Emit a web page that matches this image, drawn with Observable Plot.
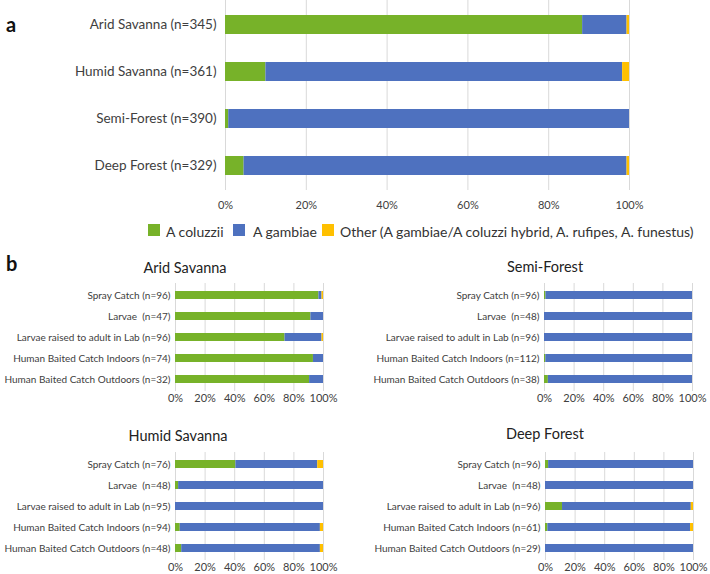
<!DOCTYPE html>
<html>
<head>
<meta charset="utf-8">
<script src="https://cdn.jsdelivr.net/npm/d3@7"></script>
<script src="https://cdn.jsdelivr.net/npm/@observablehq/plot@0.6"></script>
<style>
  html, body { margin: 0; padding: 0; background: #fff; }
  #root { position: relative; width: 710px; height: 574px; font-family: Lato, "Open Sans", sans-serif; color: #404040; overflow: hidden; }
  #root svg { position: absolute; overflow: visible; }
  .lbl { position: absolute; font-family: Lato, "Open Sans", sans-serif; white-space: nowrap; }
  .panel { font-weight: bold; font-size: 20px; color: #111; }
  .title { font-size: 14.5px; color: #222; transform: translateX(-50%); }
  .leg { position: absolute; top: 223px; font-size: 14px; color: #333; white-space: nowrap; }
  .sw { position: absolute; top: 224px; width: 12px; height: 12px; }
</style>
</head>
<body>
<div id="root"></div>
<script>
// ---- Data ----
const species = ["A coluzzii", "A gambiae", "Other (A gambiae/A coluzzi hybrid, A. rufipes, A. funestus)"];
const speciesColors = ["#77b229", "#4e71bf", "#ffc000"];
const ticksPct = [0, 20, 40, 60, 80, 100];

// Panel a
const sitesA = ["Arid Savanna (n=345)", "Humid Savanna (n=361)", "Semi-Forest (n=390)", "Deep Forest (n=329)"];
const coluzziiA = [88.4, 10.0, 0.8, 4.6];
const gambiaeA = [11.0, 88.3, 99.2, 94.8];
const otherA = [0.6, 1.7, 0, 0.6];

// Panel b
const aridTitle = "Arid Savanna";
const aridLabels = ["Spray Catch (n=96)", "Larvae  (n=47)", "Larvae raised to adult in Lab (n=96)", "Human Baited Catch Indoors (n=74)", "Human Baited Catch Outdoors (n=32)"];
const aridColuzzii = [96.9, 91.5, 74.0, 93.2, 90.6];
const aridGambiae = [2.1, 8.5, 25.0, 6.8, 9.4];
const aridOther = [1.0, 0, 1.0, 0, 0];

const semiTitle = "Semi-Forest";
const semiLabels = ["Spray Catch (n=96)", "Larvae  (n=48)", "Larvae raised to adult in Lab (n=96)", "Human Baited Catch Indoors (n=112)", "Human Baited Catch Outdoors (n=38)"];
const semiColuzzii = [1.0, 0, 0, 0.9, 2.6];
const semiGambiae = [99.0, 100, 100, 99.1, 97.4];
const semiOther = [0, 0, 0, 0, 0];

const humidTitle = "Humid Savanna";
const humidLabels = ["Spray Catch (n=76)", "Larvae  (n=48)", "Larvae raised to adult in Lab (n=95)", "Human Baited Catch Indoors (n=94)", "Human Baited Catch Outdoors (n=48)"];
const humidColuzzii = [40.8, 2.1, 0, 3.2, 4.2];
const humidGambiae = [55.3, 97.9, 100, 94.7, 93.7];
const humidOther = [3.9, 0, 0, 2.1, 2.1];

const deepTitle = "Deep Forest";
const deepLabels = ["Spray Catch (n=96)", "Larvae  (n=48)", "Larvae raised to adult in Lab (n=96)", "Human Baited Catch Indoors (n=61)", "Human Baited Catch Outdoors (n=29)"];
const deepColuzzii = [2.1, 0, 11.5, 1.6, 0];
const deepGambiae = [97.9, 100, 87.0, 96.4, 100];
const deepOther = [0, 0, 1.5, 2.0, 0];

// ---- Helpers ----
function rows(labels, c, g, o) {
  const out = [];
  labels.forEach((l, i) => {
    [c[i], g[i], o[i]].forEach((v, k) => out.push({label: l, species: species[k], value: v}));
  });
  return out;
}

const root = document.getElementById("root");

function place(el, left, top) {
  el.style.left = left + "px";
  el.style.top = top + "px";
  root.appendChild(el);
}

function addText(cls, text, left, top) {
  const d = document.createElement("div");
  d.className = "lbl " + cls;
  d.textContent = text;
  d.style.left = left + "px";
  d.style.top = top + "px";
  root.appendChild(d);
}

// ---- Panel a ----
const plotA = Plot.plot({
  width: 660, height: 215,
  marginLeft: 225, marginRight: 31, marginTop: 0, marginBottom: 25,
  style: {fontFamily: "Lato, 'Open Sans', sans-serif", color: "#404040", background: "transparent"},
  x: {domain: [0, 100], label: null},
  y: {domain: sitesA, paddingInner: 0.6, paddingOuter: 0.28, label: null},
  color: {domain: species, range: speciesColors},
  marks: [
    Plot.gridX(ticksPct, {stroke: "#d9d9d9", strokeOpacity: 1}),
    Plot.barX(rows(sitesA, coluzziiA, gambiaeA, otherA), Plot.stackX({x: "value", y: "label", fill: "species"})),
    Plot.axisY({tickSize: 0, tickPadding: 9, fontSize: 13.5, label: null}),
    Plot.axisX({ticks: ticksPct, tickFormat: d => d + "%", tickSize: 0, tickPadding: 11, fontSize: 11, label: null})
  ]
});
place(plotA, 0, 0);

addText("panel", "a", 6, 12);
addText("panel", "b", 6, 251);

// legend
const legX = [148, 233, 322];
const legTextX = [166, 253, 340];
species.forEach((s, i) => {
  const sw = document.createElement("div");
  sw.className = "sw";
  sw.style.left = legX[i] + "px";
  sw.style.background = speciesColors[i];
  root.appendChild(sw);
  const t = document.createElement("div");
  t.className = "leg";
  t.style.left = legTextX[i] + "px";
  t.textContent = s;
  root.appendChild(t);
});

// ---- Panel b ----
function small(labels, c, g, o, width, marginLeft, marginRight) {
  return Plot.plot({
    width, height: 125,
    marginLeft, marginRight, marginTop: 0, marginBottom: 17,
    style: {fontFamily: "Lato, 'Open Sans', sans-serif", color: "#404040", background: "transparent"},
    x: {domain: [0, 100], label: null},
    y: {domain: labels, paddingInner: 0.6, paddingOuter: 0.34, label: null},
    color: {domain: species, range: speciesColors},
    marks: [
      Plot.gridX(ticksPct, {stroke: "#d9d9d9", strokeOpacity: 1}),
      Plot.barX(rows(labels, c, g, o), Plot.stackX({x: "value", y: "label", fill: "species"})),
      Plot.axisY({tickSize: 0, tickPadding: 5, fontSize: 10, label: null}),
      Plot.axisX({ticks: ticksPct, tickFormat: d => d + "%", tickSize: 0, tickPadding: 3, fontSize: 11, label: null})
    ]
  });
}

place(small(aridLabels, aridColuzzii, aridGambiae, aridOther, 330, 175, 7), 0, 283);
place(small(semiLabels, semiColuzzii, semiGambiae, semiOther, 340, 184, 8), 360, 283);
place(small(humidLabels, humidColuzzii, humidGambiae, humidOther, 330, 175, 7), 0, 452);
place(small(deepLabels, deepColuzzii, deepGambiae, deepOther, 341, 185, 8), 360, 452);

addText("title", aridTitle, 185, 259);
addText("title", semiTitle, 545, 258);
addText("title", humidTitle, 178, 427);
addText("title", deepTitle, 545, 425);
</script>
</body>
</html>
